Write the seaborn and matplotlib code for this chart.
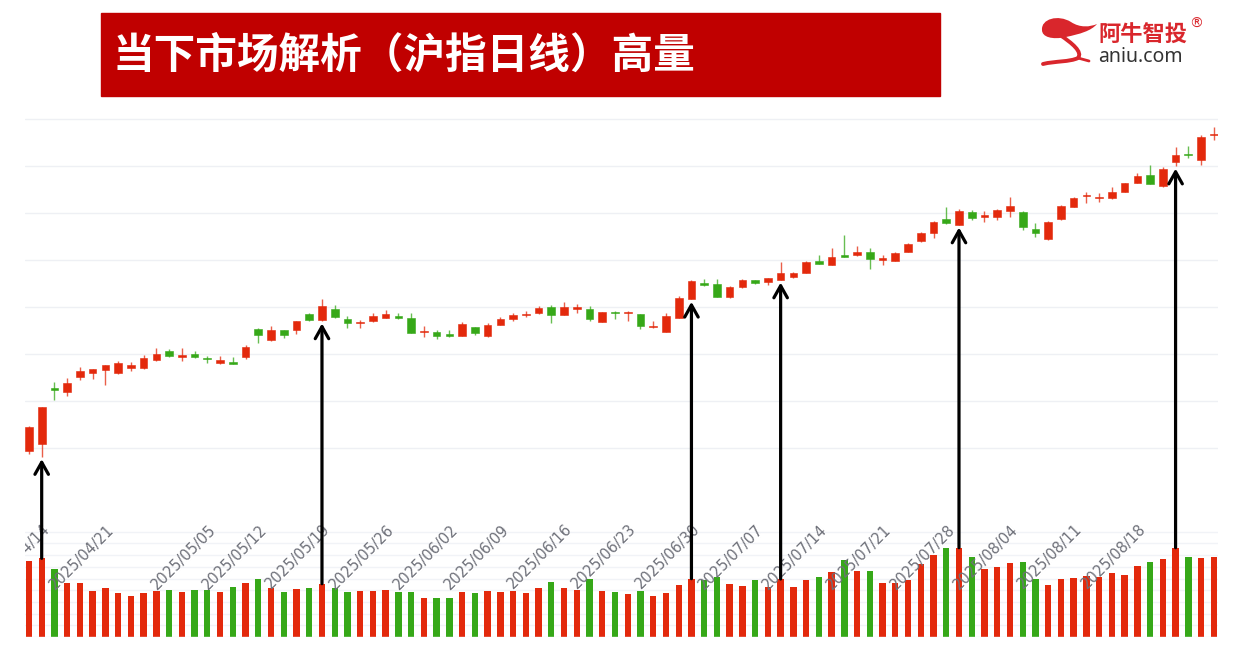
import numpy as np
import pandas as pd
import matplotlib
matplotlib.use("Agg")
import matplotlib.pyplot as plt
import matplotlib.transforms as mtransforms
from matplotlib.patches import Rectangle, PathPatch
from matplotlib.path import Path
import seaborn as sns

# Shanghai Composite daily candles, 2025-04-11 .. 2025-08-26
holidays = ["2025-05-01", "2025-05-02", "2025-05-05", "2025-06-02"]
dates = [d for d in pd.bdate_range("2025-04-11", "2025-08-26") if d.strftime("%Y-%m-%d") not in holidays]

open_ = [3194.3, 3208.5, 3326.7, 3318.9, 3350.7, 3359.9, 3365.6, 3359.2, 3369.2, 3370.5,
         3387.5, 3407.4, 3394.3, 3400.2, 3390.5, 3380.5, 3383.2, 3393.2, 3454.1, 3428.7,
         3450.5, 3450.5, 3486.0, 3471.3, 3496.6, 3473.9, 3466.0, 3469.6, 3476.6, 3478.7,
         3476.0, 3446.3, 3446.3, 3441.4, 3438.4, 3457.5, 3437.8, 3462.6, 3475.4, 3483.0,
         3486.6, 3500.0, 3482.4, 3495.7, 3496.6, 3468.1, 3488.1, 3487.2, 3484.5, 3456.9,
         3447.8, 3477.5, 3516.3, 3550.3, 3548.2, 3521.2, 3542.4, 3556.7, 3553.9, 3557.3,
         3564.5, 3572.2, 3597.0, 3589.1, 3609.1, 3609.7, 3617.6, 3600.6, 3598.5, 3616.7,
         3639.5, 3657.1, 3686.2, 3674.9, 3701.7, 3691.9, 3691.0, 3704.6, 3701.7, 3666.4,
         3643.7, 3686.2, 3712.3, 3735.0, 3731.4, 3732.3, 3744.1, 3764.7, 3781.1, 3756.9,
         3808.7, 3824.2, 3812.9, 3866.0]
close_ = [3245.2, 3286.4, 3323.1, 3338.0, 3362.8, 3367.1, 3375.6, 3379.8, 3375.6, 3390.4,
          3399.6, 3395.3, 3397.4, 3393.2, 3388.3, 3386.8, 3379.0, 3415.1, 3439.9, 3450.5,
          3439.9, 3469.6, 3473.2, 3502.5, 3478.7, 3466.0, 3468.1, 3480.2, 3486.0, 3477.5,
          3445.6, 3448.4, 3438.4, 3439.3, 3463.3, 3445.6, 3461.1, 3474.5, 3483.9, 3486.0,
          3498.7, 3482.4, 3500.8, 3500.0, 3474.5, 3488.7, 3486.6, 3488.7, 3460.5, 3458.4,
          3480.2, 3519.1, 3554.5, 3546.0, 3521.2, 3542.4, 3556.7, 3551.8, 3560.9, 3571.5,
          3571.5, 3595.5, 3591.3, 3606.1, 3607.0, 3617.6, 3601.9, 3601.2, 3614.0, 3633.7,
          3657.1, 3679.8, 3678.3, 3703.8, 3689.8, 3696.1, 3706.8, 3713.8, 3669.8, 3656.4,
          3681.3, 3715.3, 3731.4, 3737.1, 3732.9, 3745.0, 3763.2, 3779.6, 3762.0, 3793.0,
          3824.2, 3823.5, 3862.4, 3866.6]
high_ = [3246.0, 3287.0, 3339.5, 3349.2, 3371.3, 3368.4, 3376.0, 3384.7, 3383.2, 3398.1,
         3411.7, 3410.2, 3412.9, 3405.9, 3396.0, 3394.7, 3392.6, 3418.7, 3455.4, 3459.6,
         3451.0, 3471.1, 3487.0, 3515.9, 3503.6, 3480.2, 3473.2, 3488.1, 3493.0, 3487.2,
         3488.1, 3460.5, 3450.5, 3451.0, 3467.5, 3458.0, 3465.4, 3478.7, 3487.2, 3490.9,
         3501.5, 3505.1, 3511.4, 3507.2, 3501.5, 3490.0, 3491.5, 3491.5, 3485.0, 3469.6,
         3488.1, 3522.7, 3556.7, 3560.3, 3560.3, 3543.9, 3558.8, 3557.7, 3562.4, 3596.4,
         3573.6, 3597.0, 3609.7, 3625.2, 3653.7, 3628.8, 3625.2, 3610.4, 3616.1, 3635.2,
         3658.6, 3682.6, 3711.6, 3707.4, 3706.8, 3703.2, 3708.9, 3733.5, 3703.2, 3679.2,
         3682.0, 3716.0, 3733.0, 3744.1, 3742.8, 3754.7, 3764.7, 3785.3, 3802.3, 3797.2,
         3841.2, 3843.3, 3866.0, 3883.6]
low_ = [3187.3, 3181.5, 3301.9, 3311.0, 3345.0, 3346.5, 3333.1, 3357.7, 3363.5, 3369.0,
        3386.0, 3393.2, 3385.3, 3391.7, 3380.5, 3378.3, 3378.3, 3388.3, 3424.4, 3428.0,
        3434.2, 3443.5, 3469.6, 3470.0, 3476.6, 3456.2, 3456.2, 3469.0, 3476.0, 3473.9,
        3445.0, 3436.3, 3432.9, 3437.0, 3438.0, 3441.4, 3437.0, 3462.0, 3470.2, 3478.7,
        3486.0, 3466.0, 3482.0, 3487.2, 3469.6, 3468.0, 3475.4, 3469.6, 3453.3, 3456.0,
        3447.0, 3477.0, 3516.0, 3545.0, 3520.6, 3518.5, 3539.7, 3548.2, 3546.0, 3557.0,
        3562.4, 3572.0, 3590.6, 3589.0, 3605.5, 3607.6, 3580.6, 3590.0, 3598.0, 3616.0,
        3638.4, 3646.5, 3676.6, 3674.0, 3684.0, 3680.4, 3684.0, 3691.0, 3662.8, 3648.6,
        3642.7, 3685.5, 3711.6, 3721.6, 3722.9, 3728.6, 3743.5, 3763.6, 3760.5, 3755.2,
        3799.3, 3816.3, 3802.9, 3855.4]
# volume, arbitrary units as measured from bar heights
volume = [76.0, 78.7, 68.0, 54.0, 54.0, 45.7, 48.7, 43.7, 41.0, 43.7,
          46.3, 47.0, 44.7, 47.0, 47.0, 44.7, 49.7, 54.0, 58.3, 49.0,
          45.3, 48.0, 48.7, 53.3, 49.0, 45.3, 46.3, 46.3, 47.0, 45.3,
          45.3, 39.3, 39.3, 39.3, 44.7, 43.7, 45.7, 44.7, 46.3, 43.7,
          49.0, 55.0, 49.0, 47.0, 58.0, 46.3, 44.7, 43.0, 46.0, 41.5,
          43.7, 52.3, 58.3, 57.0, 60.3, 52.7, 51.0, 57.0, 50.0, 58.0,
          50.0, 57.0, 60.3, 65.0, 77.0, 66.0, 66.0, 54.3, 54.3, 57.0,
          72.7, 82.0, 88.7, 89.3, 80.3, 68.3, 70.0, 73.7, 75.3, 58.3,
          52.3, 57.7, 58.7, 61.0, 60.3, 64.0, 62.0, 71.0, 74.7, 78.0,
          89.3, 80.3, 78.7, 79.7]

week_labels = ["2025/04/14", "2025/04/21", "2025/05/05", "2025/05/12", "2025/05/19", "2025/05/26",
               "2025/06/02", "2025/06/09", "2025/06/16", "2025/06/23", "2025/06/30", "2025/07/07",
               "2025/07/14", "2025/07/21", "2025/07/28", "2025/08/04", "2025/08/11", "2025/08/18"]
# "high volume" days marked with arrows
arrow_dates = ["2025-04-14", "2025-05-19", "2025-06-30", "2025-07-09", "2025-07-29", "2025-08-21"]

title = "当下市场解析（沪指日线）高量"

RED = "#e3290c"
GREEN = "#36a818"

df = pd.DataFrame({"date": dates, "open": open_, "close": close_, "high": high_,
                   "low": low_, "volume": volume})
df["idx"] = np.arange(len(df))
df["trend"] = np.where(df["close"] >= df["open"], "up", "down")
df["color"] = df["trend"].map({"up": RED, "down": GREEN})

sns.set_theme(style="white")
plt.rcParams["font.family"] = ["Noto Sans CJK SC", "DejaVu Sans"]

W, H = 1238, 646
fig = plt.figure(figsize=(W / 100, H / 100), dpi=100)
fig.patch.set_facecolor("white")

left, right = 25 / W, 1218 / W
ax1 = fig.add_axes([left, (H - 520) / H, right - left, 420 / H])
ax2 = fig.add_axes([left, (H - 637) / H, right - left, 117 / H])
ax1.set_zorder(2)
ax2.set_zorder(1)
ax1.patch.set_visible(False)

# candles
ax1.vlines(df["idx"], df["low"], df["high"], colors=df["color"], lw=1, alpha=0.75, zorder=2)
body = (df["close"] - df["open"]).abs().clip(lower=2.5)
ax1.bar(df["idx"], body, bottom=df[["open", "close"]].min(axis=1), width=0.6,
        color=df["color"], edgecolor=df["color"], linewidth=0.4, zorder=3)

xlim = (-0.31, 93.33)
ax1.set_xlim(*xlim)
ax1.set_ylim(3046.9, 3940.2)
ax1.set_yticks(range(3200, 4000, 100))
ax1.grid(axis="y", color="#eef0f4", lw=1)
ax1.grid(axis="x", visible=False)
ax1.set_xticks([])
ax1.tick_params(left=False, labelleft=False, bottom=False, labelbottom=False)
for s in ax1.spines.values():
    s.set_visible(False)

# volume bars
sns.barplot(data=df, x="idx", y="volume", hue="trend", palette={"up": RED, "down": GREEN},
            saturation=1, width=0.5, dodge=False, legend=False, linewidth=0, ax=ax2)
ax2.set_xlim(*xlim)
ax2.set_ylim(0, 117)
ax2.set_yticks(np.arange(1, 10) * 11.7)
ax2.grid(axis="y", color="#f1f3f7", lw=1)
ax2.grid(axis="x", visible=False)
ax2.axhline(0, color="#eef0f4", lw=1)
ax2.set_xlabel("")
ax2.set_ylabel("")
ax2.tick_params(left=False, labelleft=False, bottom=False, labelbottom=False)
for s in ax2.spines.values():
    s.set_visible(False)

# week labels at the first trading day of each week (left one is cut by the chart edge)
clip_box = mtransforms.TransformedBbox(mtransforms.Bbox([[left, 0], [1, 1]]), fig.transFigure)
lbl_trans = mtransforms.blended_transform_factory(ax1.transData, ax1.transAxes) + \
    mtransforms.ScaledTranslation(0.06, -0.07, fig.dpi_scale_trans)
for lab in week_labels:
    pos = int(np.searchsorted(df["date"].values, np.datetime64(lab.replace("/", "-"))))
    t = ax1.text(pos, 0, lab, transform=lbl_trans, rotation=45, rotation_mode="anchor",
                 ha="right", va="center", fontsize=10.5, color="#6E7079", family="DejaVu Sans")
    t.set_clip_box(clip_box)
    t.set_clip_on(True)

# overlay: banner, logo, arrows
ov = fig.add_axes([0, 0, 1, 1], zorder=5)
ov.set_xlim(0, W)
ov.set_ylim(H, 0)
ov.axis("off")
ov.patch.set_visible(False)

ov.add_patch(Rectangle((101, 13), 839, 83, color="#c00000"))
ov.text(113, 56, title, color="white", fontsize=30, fontweight="bold", va="center", ha="left")

LOGO = "#d9262c"
head = Path([(1042, 30), (1041, 19), (1058, 14), (1071, 22),
             (1080, 28), (1090, 27), (1097, 24),
             (1091, 31), (1080, 34), (1066, 37),
             (1052, 40), (1042, 37), (1042, 30)],
            [Path.MOVETO] + [Path.CURVE4] * 12)
ov.add_patch(PathPatch(head, facecolor=LOGO, edgecolor="none"))
neck = Path([(1060, 35), (1072, 43), (1083, 52), (1078, 58),
             (1070, 62), (1055, 61), (1043, 64)],
            [Path.MOVETO] + [Path.CURVE4] * 6)
ov.add_patch(PathPatch(neck, facecolor="none", edgecolor=LOGO, lw=2.8, capstyle="round"))
ov.plot([1078, 1089], [58, 61], color=LOGO, lw=2, solid_capstyle="round")
ov.text(1098, 35, "阿牛智投", color=LOGO, fontsize=16, fontweight="bold", va="center", ha="left")
ov.text(1189, 24, "®", color=LOGO, fontsize=10, va="center", ha="left", family="DejaVu Sans")
ov.text(1098, 57, "aniu.com", color="#333333", fontsize=14, va="center", ha="left", family="Noto Sans")

for d in arrow_dates:
    i = int(np.searchsorted(df["date"].values, np.datetime64(d)))
    ov.annotate("", xy=(i, df["low"][i] - 5), xycoords=ax1.transData,
                xytext=(i, df["volume"][i]), textcoords=ax2.transData,
                arrowprops=dict(arrowstyle="->,head_length=0.48,head_width=0.27", lw=2.3,
                                color="black", mutation_scale=18, shrinkA=0, shrinkB=0),
                annotation_clip=False)

fig.savefig("out.png", dpi=100)
